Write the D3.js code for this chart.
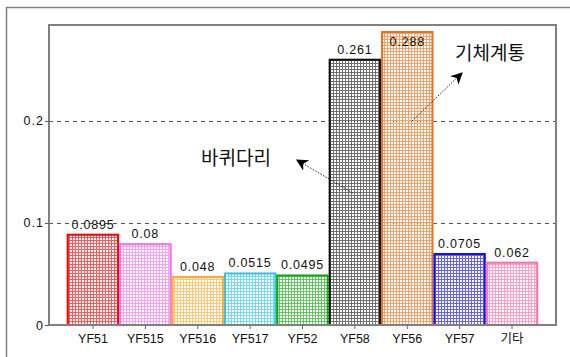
<!DOCTYPE html>
<html>
<head>
<meta charset="utf-8">
<script src="https://cdn.jsdelivr.net/npm/d3@7"></script>
<style>
  html, body { margin: 0; padding: 0; background: #fff; }
  svg { display: block; }
  text { font-family: "Liberation Sans", Arial, sans-serif; }
</style>
</head>
<body>
<svg id="chart" width="570" height="357"></svg>
<script>
// Categories, values and bar colours
const categories = ["YF51", "YF515", "YF516", "YF517", "YF52", "YF58", "YF56", "YF57", "기타"];
const values = [0.0895, 0.08, 0.048, 0.0515, 0.0495, 0.261, 0.288, 0.0705, 0.062];
const valueLabels = ["0.0895", "0.08", "0.048", "0.0515", "0.0495", "0.261", "0.288", "0.0705", "0.062"];
const colors = ["#ff0000", "#f070f0", "#ffaa33", "#33c4e8", "#10a810", "#111111", "#e8721e", "#1010f0", "#ff6fa8"];
const yTicks = [0, 0.1, 0.2];
const yTickLabels = ["0", "0.1", "0.2"];

const svg = d3.select("#chart");
const W = 570, H = 357;
const plot = { left: 49, top: 25, right: 556, bottom: 325 };

// Outer frame (top and left edges)
svg.append("path")
  .attr("d", `M6.5,${H} V7.5 H${W}`)
  .attr("fill", "none").attr("stroke", "#808080").attr("stroke-width", 1.5);

const x = d3.scaleBand().domain(categories)
  .range([plot.left, plot.right]).paddingInner(0).paddingOuter(0.34);
const y = d3.scaleLinear().domain([0, 0.294]).range([plot.bottom, plot.top]);

// Grid-like fill patterns for each bar
const defs = svg.append("defs");
categories.forEach((c, i) => {
  const p = defs.append("pattern")
    .attr("id", "pat" + i).attr("patternUnits", "userSpaceOnUse")
    .attr("width", 3).attr("height", 3);
  p.append("rect").attr("width", 3).attr("height", 3).attr("fill", colors[i]).attr("opacity", i === 5 ? 0.6 : 0.65);
  p.append("rect").attr("x", 1).attr("y", 1).attr("width", 2).attr("height", 2).attr("fill", "#fff");
});

// Dashed gridlines
svg.append("g").selectAll("line")
  .data(yTicks.filter(d => d > 0))
  .join("line")
  .attr("x1", plot.left).attr("x2", plot.right)
  .attr("y1", d => Math.round(y(d)) + 0.5).attr("y2", d => Math.round(y(d)) + 0.5)
  .attr("stroke", "#555").attr("stroke-dasharray", "4,4").attr("stroke-width", 1);

// Bars
const bars = svg.append("g");
categories.forEach((c, i) => {
  const x0 = x(c), bw = x.bandwidth();
  const yt = y(values[i]), yb = y(0);
  bars.append("rect")
    .attr("x", x0).attr("y", yt).attr("width", bw).attr("height", yb - yt)
    .attr("fill", `url(#pat${i})`);
  bars.append("path")
    .attr("d", `M${x0 + 1},${yb} V${yt + 1} H${x0 + bw - 1} V${yb}`)
    .attr("fill", "none").attr("stroke", colors[i]).attr("stroke-width", 2);
});

// Value labels
svg.append("g").selectAll("text")
  .data(categories)
  .join("text")
  .attr("x", d => x(d) + x.bandwidth() / 2)
  .attr("y", (d, i) => i === 6 ? y(values[i]) + 15 : y(values[i]) - 5)
  .attr("text-anchor", "middle")
  .attr("font-size", 12.5)
  .attr("letter-spacing", 0.8)
  .attr("fill", "#111")
  .text((d, i) => valueLabels[i]);

// Plot frame
svg.append("rect")
  .attr("x", plot.left).attr("y", plot.top)
  .attr("width", plot.right - plot.left).attr("height", plot.bottom - plot.top)
  .attr("fill", "none").attr("stroke", "#808080").attr("stroke-width", 2);

// Axes
const xAxis = svg.append("g").attr("transform", `translate(0,${plot.bottom})`)
  .call(d3.axisBottom(x).tickSize(4).tickPadding(5).tickSizeOuter(0));
xAxis.select(".domain").remove();
xAxis.selectAll("line").attr("stroke", "#666");
xAxis.selectAll("text").attr("font-size", 12.5).attr("fill", "#111")
  .style("font-family", "'Liberation Sans', 'Noto Sans CJK KR', Arial, sans-serif");

const yAxis = svg.append("g").attr("transform", `translate(${plot.left},0)`)
  .call(d3.axisLeft(y).tickValues(yTicks).tickFormat((d, i) => yTickLabels[i]).tickSize(4).tickPadding(1));
yAxis.select(".domain").remove();
yAxis.selectAll("line").attr("stroke", "#555");
yAxis.selectAll("text").attr("font-size", 12.5).attr("fill", "#111").attr("letter-spacing", 1)
  .style("font-family", "'Liberation Sans', Arial, sans-serif");

// Annotations with dotted arrows
const marker = defs.append("marker")
  .attr("id", "arrow").attr("viewBox", "0 0 10 10")
  .attr("refX", 9).attr("refY", 5)
  .attr("markerWidth", 12).attr("markerHeight", 12)
  .attr("markerUnits", "userSpaceOnUse")
  .attr("orient", "auto");
marker.append("path").attr("d", "M0,0 L10,5 L0,10 L3,5 Z").attr("fill", "#000");

function annotate(text, tx, ty, x1, y1, x2, y2) {
  svg.append("text").attr("x", tx).attr("y", ty)
    .attr("font-size", 19).attr("fill", "#111")
    .style("font-family", "'Noto Sans CJK KR', sans-serif")
    .text(text);
  svg.append("line")
    .attr("x1", x1).attr("y1", y1).attr("x2", x2).attr("y2", y2)
    .attr("stroke", "#222").attr("stroke-width", 1).attr("stroke-dasharray", "1.5,1.5")
    .attr("marker-end", "url(#arrow)");
}
annotate("기체계통", 455, 60, x("YF56") + 31, y(0.2), 462, 73);
annotate("바퀴다리", 201, 165, x("YF58") + 24, 193, 297, 160);
</script>
</body>
</html>
